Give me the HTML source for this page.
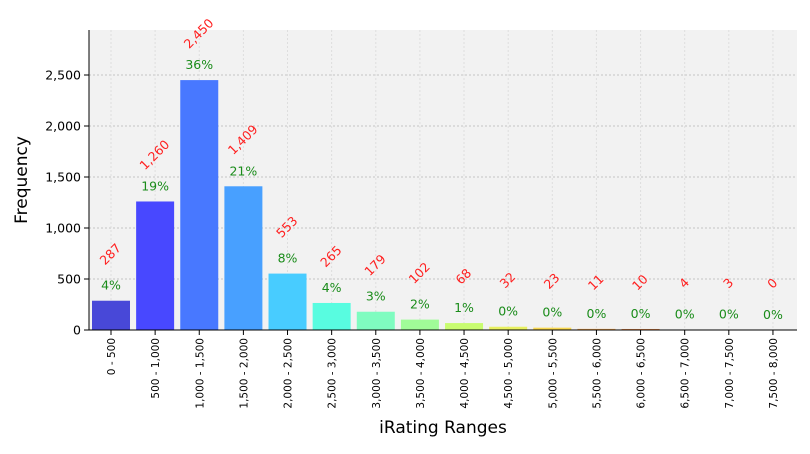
<!DOCTYPE html>
<html><head><meta charset="utf-8"><style>
body{margin:0;background:#fff;font-family:"DejaVu Sans","Liberation Sans",sans-serif}
</style></head><body>
<svg width="810" height="450" xmlns="http://www.w3.org/2000/svg">
<rect x="89" y="30" width="708" height="300" fill="#f2f2f2"/>
<g id="grid"></g><g id="bars"></g><g id="labels"></g><g id="axes"></g>
<text x="443" y="433" font-size="17" text-anchor="middle" fill="#000">iRating Ranges</text>
<text transform="translate(27,180) rotate(-90)" font-size="17" text-anchor="middle" fill="#000">Frequency</text>
</svg>
<script>
const categories=["0 - 500","500 - 1,000","1,000 - 1,500","1,500 - 2,000","2,000 - 2,500","2,500 - 3,000","3,000 - 3,500","3,500 - 4,000","4,000 - 4,500","4,500 - 5,000","5,000 - 5,500","5,500 - 6,000","6,000 - 6,500","6,500 - 7,000","7,000 - 7,500","7,500 - 8,000"];
const counts=[287,1260,2450,1409,553,265,179,102,68,32,23,11,10,4,3,0];
const percents=["4%","19%","36%","21%","8%","4%","3%","2%","1%","0%","0%","0%","0%","0%","0%","0%"];
const yTicks=[0,500,1000,1500,2000,2500];
const colors=["#4848d8","#4848ff","#4878ff","#48a0ff","#48ccff","#58fce0","#7ffcc0","#a0fc98","#c8fc70","#e8f060","#f8d850","#f8a850","#f09050","#f07850","#e86050","#e04848"];
const NS="http://www.w3.org/2000/svg";
const y=v=>330-v*0.102;
const x=i=>111+i*44.13;
function mk(tag,attrs,parent,txt){const e=document.createElementNS(NS,tag);for(const k in attrs)e.setAttribute(k,attrs[k]);if(txt!==undefined)e.textContent=txt;document.getElementById(parent).appendChild(e);return e;}
yTicks.forEach(t=>{
 if(t>0){const g=mk('line',{x1:89,x2:797,y1:y(t),y2:y(t),stroke:'#c4c4c4','stroke-dasharray':'2,2'},'grid');
 }
 const tk=mk('line',{x1:84,x2:89,y1:y(t),y2:y(t),stroke:'#000'},'axes');
 
 const l=mk('text',{x:81,y:y(t)+4.5,'font-size':12.5,'text-anchor':'end'},'axes',t.toLocaleString('en-US'));
 
});
categories.forEach((c,i)=>{
 const g=mk('line',{x1:x(i),x2:x(i),y1:30,y2:330,stroke:'#dedede','stroke-dasharray':'2,2'},'grid');
 
 const top=y(counts[i]);
 const b=mk('rect',{x:x(i)-19,y:top,width:38,height:330-top,fill:colors[i]},'bars');
 
 const p=mk('text',{x:x(i),y:top-11,'font-size':12.5,'text-anchor':'middle',fill:'#1a8c1a'},'labels',percents[i]);
 
 const cy=top-46;
 const cl=mk('text',{x:x(i),y:cy,'font-size':12.5,'text-anchor':'middle','dominant-baseline':'middle',fill:'#ff2020',transform:`rotate(-45 ${x(i)} ${cy})`},'labels',counts[i].toLocaleString('en-US'));
 
 const tk=mk('line',{x1:x(i),x2:x(i),y1:330,y2:335,stroke:'#000'},'axes');
 
 const xl=mk('text',{x:x(i)+4,y:338,'font-size':10.5,'text-anchor':'end',transform:`rotate(-90 ${x(i)+4} 338)`},'axes',c);
 
});
const la=mk('line',{x1:89,x2:89,y1:30,y2:330,stroke:'#000','stroke-width':1},'axes');

const ba=mk('line',{x1:89,x2:797,y1:330,y2:330,stroke:'#000','stroke-width':1},'axes');

</script>
</body></html>
